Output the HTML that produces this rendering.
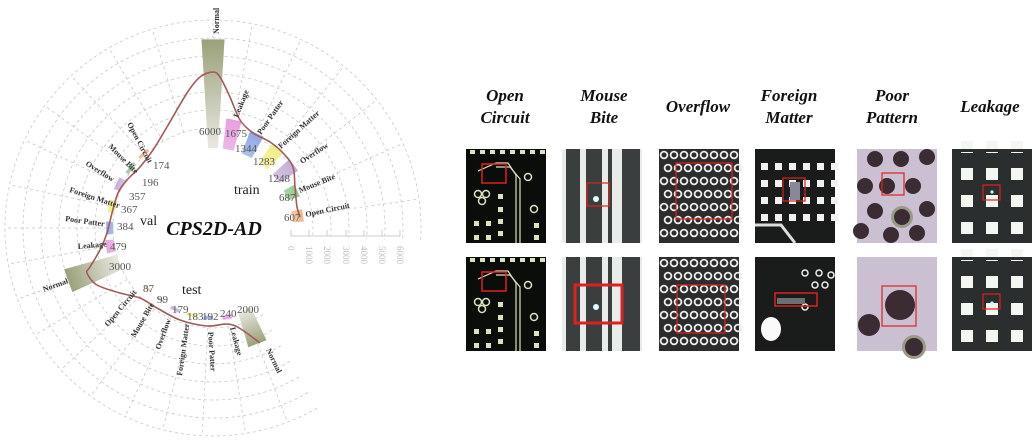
<!DOCTYPE html>
<html><head><meta charset="utf-8"><style>
html,body{margin:0;padding:0;background:#fff;width:1036px;height:440px;overflow:hidden}
svg{position:absolute;left:0;top:0}
.lab{font-family:"Liberation Serif",serif;font-size:8px;font-weight:bold;fill:#333}
.val{font-family:"Liberation Serif",serif;font-size:11px;fill:#555}
.hd{font-family:"Liberation Serif",serif;font-size:17px;font-weight:bold;font-style:italic;fill:#111}
.ax{font-family:"Liberation Serif",serif;font-size:9px;fill:#bbb}
</style></head><body>
<svg id="s" width="1036" height="440" viewBox="0 0 1036 440">
<g id="grid"></g>
<g id="bars"></g>
<g id="imgs"></g>
<path id="curve" fill="none" stroke="#a45a5a" stroke-width="1.6"/>

<g stroke="#ccc" stroke-width="1" fill="none">
<line x1="291" y1="236" x2="400" y2="236"/>
<line x1="291" y1="230" x2="291" y2="236"/><line x1="309" y1="230" x2="309" y2="236"/><line x1="327" y1="230" x2="327" y2="236"/><line x1="346" y1="230" x2="346" y2="236"/><line x1="364" y1="230" x2="364" y2="236"/><line x1="382" y1="230" x2="382" y2="236"/><line x1="400" y1="230" x2="400" y2="236"/>
</g>
<text class="ax" transform="translate(288,246) rotate(90)">0</text>
<text class="ax" transform="translate(306,246) rotate(90)">1000</text>
<text class="ax" transform="translate(324,246) rotate(90)">2000</text>
<text class="ax" transform="translate(343,246) rotate(90)">3000</text>
<text class="ax" transform="translate(361,246) rotate(90)">4000</text>
<text class="ax" transform="translate(379,246) rotate(90)">5000</text>
<text class="ax" transform="translate(397,246) rotate(90)">6000</text>

<text class="lab" transform="translate(219,34) rotate(-90)">Normal</text>
<text class="lab" transform="translate(238,118) rotate(-68)">Leakage</text>
<text class="lab" transform="translate(261,135) rotate(-55)">Poor Patter</text>
<text class="lab" transform="translate(281,149) rotate(-42)">Foreign Matter</text>
<text class="lab" transform="translate(302,164) rotate(-33)">Overflow</text>
<text class="lab" transform="translate(300,193) rotate(-22)">Mouse Bite</text>
<text class="lab" transform="translate(306,217) rotate(-12)">Open Circuit</text>
<text class="lab" transform="translate(127,124) rotate(62)">Open Circuit</text>
<text class="lab" transform="translate(108,147) rotate(45)">Mouse Bite</text>
<text class="lab" transform="translate(85,165) rotate(32)">Overflow</text>
<text class="lab" transform="translate(69,192) rotate(18)">Foreign Matter</text>
<text class="lab" transform="translate(65,221) rotate(8)">Poor Patter</text>
<text class="lab" transform="translate(78,249) rotate(-5)">Leakage</text>
<text class="lab" transform="translate(44,292) rotate(-20)">Normal</text>
<text class="lab" transform="translate(108,327) rotate(-50)">Open Circuit</text>
<text class="lab" transform="translate(135,338) rotate(-60)">Mouse Bite</text>
<text class="lab" transform="translate(160,350) rotate(-70)">Overflow</text>
<text class="lab" transform="translate(182,376) rotate(-82)">Foreign Matter</text>
<text class="lab" transform="translate(208,332) rotate(86)">Poor Patter</text>
<text class="lab" transform="translate(230,328) rotate(75)">Leakage</text>
<text class="lab" transform="translate(266,350) rotate(64)">Normal</text>

<g class="val">
<text x="199" y="135">6000</text><text x="225" y="137">1675</text><text x="235" y="152">1344</text><text x="253" y="165">1283</text><text x="268" y="182">1248</text><text x="279" y="201">687</text><text x="284" y="221">607</text>
<text x="153" y="169">174</text><text x="142" y="186">196</text><text x="129" y="200">357</text><text x="121" y="213">367</text><text x="117" y="230">384</text><text x="110" y="250">479</text><text x="109" y="270">3000</text>
<text x="143" y="292">87</text><text x="157" y="303">99</text><text x="172" y="313">179</text><text x="187" y="320">183</text><text x="202" y="320">192</text><text x="220" y="317">240</text><text x="237" y="313">2000</text>
</g>
<text x="234" y="194" font-family="Liberation Serif,serif" font-size="14" fill="#222">train</text>
<text x="140" y="225" font-family="Liberation Serif,serif" font-size="14" fill="#222">val</text>
<text x="182" y="294" font-family="Liberation Serif,serif" font-size="14" fill="#222">test</text>
<text x="214" y="235" text-anchor="middle" font-family="Liberation Serif,serif" font-size="20" font-weight="bold" font-style="italic" fill="#111">CPS2D-AD</text>

<g class="hd" text-anchor="middle">
<text x="505" y="101">Open</text><text x="505" y="123">Circuit</text>
<text x="604" y="101">Mouse</text><text x="604" y="123">Bite</text>
<text x="698" y="112">Overflow</text>
<text x="789" y="101">Foreign</text><text x="789" y="123">Matter</text>
<text x="892" y="101">Poor</text><text x="892" y="123">Pattern</text>
<text x="990" y="112">Leakage</text>
</g>
</svg>
<script>
var NS="http://www.w3.org/2000/svg",cx=213,cy=228;
function P(a,r){a=a*Math.PI/180;return [cx+r*Math.sin(a),cy-r*Math.cos(a)];}
function el(t,at,p){var e=document.createElementNS(NS,t);for(var k in at)e.setAttribute(k,at[k]);p.appendChild(e);return e;}
var g=document.getElementById('grid');
for(var r=100;r<=208;r+=18){var a0=150,a1=455,d='';for(var a=a0;a<=a1;a+=2){var p=P(a,r);d+=(a==a0?'M':'L')+p[0].toFixed(1)+','+p[1].toFixed(1);}
el('path',{d:d,fill:'none',stroke:'#c8c8c8','stroke-width':0.8,'stroke-dasharray':'3,3'},g);}
var angs=[0,11,25,39,52,66,82,159,171,183,194,205,216,227,239,250,260,270,282,295,306,317,330,343];
angs.forEach(function(a){var p1=P(a,100),p2=P(a,205);el('line',{x1:p1[0],y1:p1[1],x2:p2[0],y2:p2[1],stroke:'#c8c8c8','stroke-width':0.8,'stroke-dasharray':'3,3'},g);});
var cols=['#9aa07a','#e8a0e0','#8fa8e4','#eeee88','#c2aed8','#90c890','#f0b488'];
var b=document.getElementById('bars');
function bar(a,r0,v,w,c,i){var r1=r0+v/6000*109,h=w/2;
 var p=[P(a-h,r0),P(a+h,r0),P(a+h,r1),P(a-h,r1)];
 var id='g'+i;var gr=el('linearGradient',{id:id,gradientUnits:'userSpaceOnUse',x1:P(a,r1)[0],y1:P(a,r1)[1],x2:P(a,r0)[0],y2:P(a,r0)[1]},b);
 el('stop',{offset:0,'stop-color':c},gr);el('stop',{offset:1,'stop-color':i%7==0?'#e8e8e0':c,'stop-opacity':i%7==0?1:0.75},gr);
 el('polygon',{points:p.map(function(q){return q.join(',')}).join(' '),fill:'url(#'+id+')'},b);}
var tr=[[0,6000],[11,1675],[25,1344],[39,1283],[52,1248],[66,687],[82,607]];
tr.forEach(function(t,i){bar(t[0],80,t[1],i==0?7:8,cols[i],i);});
var va=[[250,3000],[260,479],[270,384],[282,367],[295,357],[306,196],[317,174]];
va.forEach(function(t,i){bar(t[0],100,t[1],i==0?9:7,cols[i],7+i);});
var te=[[159,2000],[171,240],[183,192],[194,183],[205,179],[216,99],[227,87]];
te.forEach(function(t,i){bar(t[0],88,t[1],i==0?9:6,cols[i],14+i);});
var pts=[[260,343],[233,325],[207,326],[180,320],[157,308],[140,298],[120,293],[97,285],[87,273],[90,267],[100,250],[107,233],[112,213],[118,193],[127,180],[140,167],[153,150],[167,127],[187,93],[200,77],[213,72],[220,77],[230,97],[240,120],[253,133],[270,142],[283,153],[293,167],[295,187],[297,207],[300,217]];
var d='M'+pts[0];for(var i=0;i<pts.length-1;i++){var p0=pts[Math.max(i-1,0)],p1=pts[i],p2=pts[i+1],p3=pts[Math.min(i+2,pts.length-1)];
d+='C'+(p1[0]+(p2[0]-p0[0])/6)+','+(p1[1]+(p2[1]-p0[1])/6)+' '+(p2[0]-(p3[0]-p1[0])/6)+','+(p2[1]-(p3[1]-p1[1])/6)+' '+p2;}
document.getElementById('curve').setAttribute('d',d);
var im=document.getElementById('imgs');
var X=[466,562,659,755,857,952],W=80,Y=[149,257],H=94;
function box(x,y,w,h,sw){el('rect',{x:x,y:y,width:w,height:h,fill:'none',stroke:'#e02020','stroke-width':sw||1.5},im);}
Y.forEach(function(y,row){
 var x=X[0];el('rect',{x:x,y:y,width:W,height:H,fill:'#0a0d0a'},im);
 for(var k=0;k<8;k++)el('rect',{x:x+4+k*10,y:y+1,width:5,height:4,fill:'#d8e4c0'},im);
 el('path',{d:'M'+(x+12)+','+(y+22)+' L'+(x+30)+','+(y+14)+' L'+(x+42)+','+(y+14)+' L'+(x+50)+','+(y+26)+' L'+(x+50)+','+(y+H),fill:'none',stroke:'#d8e4c0','stroke-width':1.2},im);
 el('path',{d:'M'+(x+30)+','+(y+18)+' L'+(x+44)+','+(y+18)+' L'+(x+54)+','+(y+30)+' L'+(x+54)+','+(y+H),fill:'none',stroke:'#d8e4c0','stroke-width':1.2},im);
 [[12,45],[20,45],[16,52],[62,28],[68,60]].forEach(function(c){el('circle',{cx:x+c[0],cy:y+c[1],r:3.5,fill:'none',stroke:'#d8e4c0','stroke-width':1.5},im);});
 [[32,45],[32,58],[32,70],[8,72],[20,72],[32,82],[8,86],[20,86],[68,74],[68,86]].forEach(function(c){el('rect',{x:x+c[0],y:y+c[1],width:5,height:5,fill:'#d8e4c0'},im);});
 box(x+16,y+15,24,19);
 x=X[1];el('rect',{x:x,y:y,width:W,height:H,fill:'#e8ece8'},im);
 [[4,14],[24,16],[46,4],[60,18]].forEach(function(s){el('rect',{x:x+s[0],y:y,width:s[1],height:H,fill:'#3a3e3e'},im);});
 el('circle',{cx:x+34,cy:y+50,r:3,fill:'#dff'},im);
 if(row==0)box(x+25,y+34,22,23,1.2);else box(x+13,y+28,47,38,3);
 x=X[2];el('rect',{x:x,y:y,width:W,height:H,fill:'#2c2c2c'},im);
 for(var j=0;j<7;j++)for(var k=0;k<8;k++)el('circle',{cx:x+5+k*10+(j%2)*4,cy:y+6+j*13,r:3.4,fill:'none',stroke:'#eee','stroke-width':1.8},im);
 if(row==0)box(x+17,y+14,56,56,1.2);else box(x+18,y+28,48,48,1.2);
 x=X[3];el('rect',{x:x,y:y,width:W,height:H,fill:'#1a1c1c'},im);
 if(row==0){for(var j=0;j<4;j++)for(var k=0;k<6;k++)el('rect',{x:x+6+k*14,y:y+14+j*17,width:7,height:7,fill:'#f0f0f0'},im);
  el('path',{d:'M'+x+','+(y+76)+' L'+(x+26)+','+(y+76)+' L'+(x+40)+','+(y+H),fill:'none',stroke:'#ddd','stroke-width':3},im);
  el('rect',{x:x+35,y:y+33,width:10,height:18,fill:'#889'},im);box(x+28,y+29,22,23,1.2);}
 else{[[50,16],[64,16],[70,28],[60,28],[50,50],[76,18]].forEach(function(c){el('circle',{cx:x+c[0],cy:y+c[1],r:3,fill:'none',stroke:'#eee','stroke-width':1.5},im);});
  el('ellipse',{cx:x+16,cy:y+72,rx:10,ry:12,fill:'#fafafa'},im);
  el('rect',{x:x+22,y:y+41,width:28,height:6,fill:'#6a7070'},im);box(x+20,y+36,42,13,1.5);}
 x=X[4];el('rect',{x:x,y:y,width:W,height:H,fill:'#cbbfd2'},im);
 if(row==0){[[18,10],[44,10],[70,8],[30,37],[56,37],[8,37],[18,62],[70,60],[4,82],[34,86],[60,84]].forEach(function(c){el('circle',{cx:x+c[0],cy:y+c[1],r:8,fill:'#3a2c32'},im);});
  el('circle',{cx:x+45,cy:y+68,r:11,fill:'#9a9a88'},im);el('circle',{cx:x+45,cy:y+68,r:8,fill:'#3a2c32'},im);box(x+25,y+24,22,22,1.2);}
 else{el('circle',{cx:x+43,cy:y+48,r:15,fill:'#3a2c32'},im);el('circle',{cx:x+12,cy:y+68,r:11,fill:'#3a2c32'},im);el('circle',{cx:x+57,cy:y+90,r:12,fill:'#9a9a88'},im);el('circle',{cx:x+57,cy:y+90,r:9,fill:'#3a2c32'},im);box(x+25,y+29,34,40,1.2);}
 x=X[5];el('rect',{x:x,y:y,width:W,height:H,fill:'#2a2e2e'},im);
 for(var j=0;j<4;j++)for(var k=0;k<3;k++)el('rect',{x:x+9+k*25,y:y-8+j*27,width:12,height:12,fill:'#f4f6f2'},im);
 el('rect',{x:x,y:y,width:W,height:3,fill:'#2a2e2e'},im);
 el('circle',{cx:x+40,cy:y+(row?46:43),r:1.6,fill:'#bfe'},im);box(x+31,y+(row?37:36),17,15,1.2);
});
</script>
</body></html>
